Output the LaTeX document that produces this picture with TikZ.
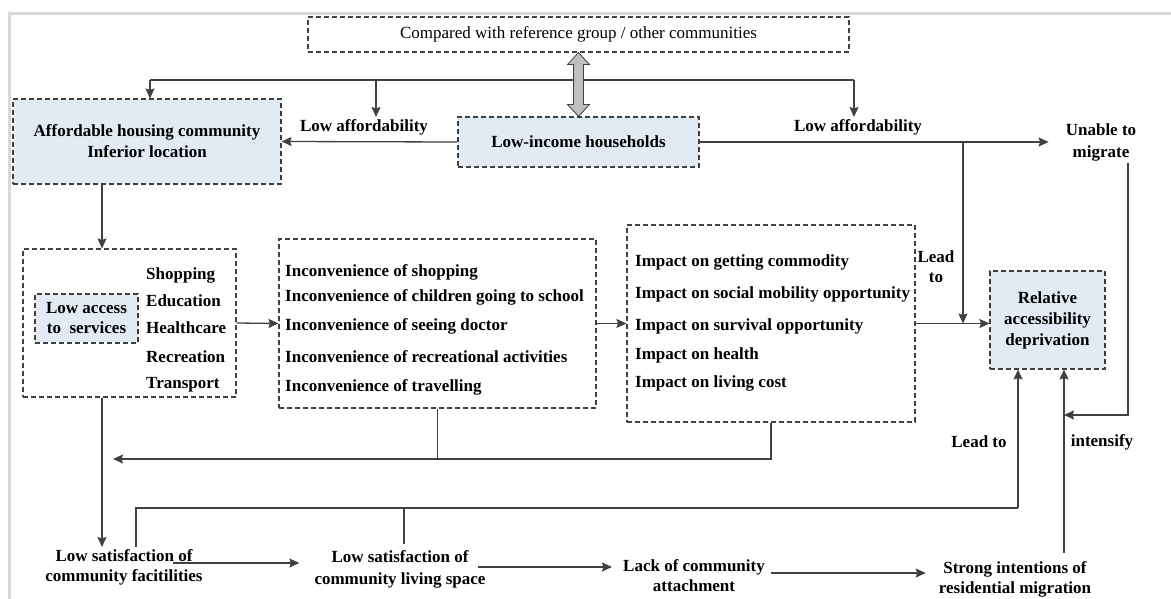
\documentclass[tikz,border=0pt]{standalone}
\usepackage{fontspec}
\setmainfont{Liberation Serif}
\usetikzlibrary{arrows.meta,calc}
\definecolor{ln}{HTML}{404040}
\definecolor{bx}{HTML}{E2EAF3}
\definecolor{fr}{HTML}{D9D9D9}
\definecolor{dbl}{HTML}{BFBFBF}
\begin{document}
\begin{tikzpicture}[x=1pt,y=-1pt,
  font=\fontsize{17}{20}\selectfont\bfseries,
  dbox/.style={draw=ln, line width=1.1pt, dash pattern=on 5pt off 3pt, inner sep=0pt, align=center},
  fbox/.style={dbox, fill=bx},
  arr/.style={draw=ln, line width=1.3pt, -{Stealth[length=10pt,width=9pt,inset=1.5pt]}},
  plain/.style={draw=ln, line width=1.3pt},
  lbl/.style={inner sep=2pt, align=center},
  item/.style={anchor=west, inner sep=0pt},
]
\useasboundingbox (0,0) rectangle (1171,599);
\fill[white] (0,0) rectangle (1171,599);
\draw[fr, line width=3pt] (9,599) -- (9,14) -- (1171,14);

% boxes
\node[dbox, minimum width=541pt, minimum height=35pt, font=\fontsize{17}{20}\selectfont\mdseries] (cmp) at (578.5,34.5) {Compared with reference group / other communities};
\node[fbox, minimum width=268pt, minimum height=85pt, font=\fontsize{17}{21}\selectfont\bfseries] (aff) at (147,141.5) {Affordable housing community\\Inferior location};
\node[fbox, minimum width=241pt, minimum height=50pt] (lowinc) at (578.5,142) {Low-income households};
\node[lbl] (la1) at (364,127) {Low affordability};
\node[lbl] (la2) at (858,127) {Low affordability};
\node[lbl, font=\fontsize{17}{22}\selectfont\bfseries] (unable) at (1101,142) {Unable to\\migrate};

\node[dbox, minimum width=213pt, minimum height=148pt] (acc) at (129.5,323) {};
\node[fbox, minimum width=103pt, minimum height=49pt] (accin) at (86.5,318.5) {Low access\\to\enspace services};
\node[item] (sv1) at (146,275) {Shopping};
\node[item] (sv2) at (146,301) {Education};
\node[item] (sv3) at (146,328) {Healthcare};
\node[item] (sv4) at (146,357) {Recreation};
\node[item] (sv5) at (146,385) {Transport};

\node[dbox, minimum width=317pt, minimum height=169pt] (inc) at (437.5,323.5) {};
\node[item] (ic1) at (285,272) {Inconvenience of shopping};
\node[item] (ic2) at (285,297) {Inconvenience of children going to school};
\node[item] (ic3) at (285,326) {Inconvenience of seeing doctor};
\node[item] (ic4) at (285,357) {Inconvenience of recreational activities};
\node[item] (ic5) at (285,387) {Inconvenience of travelling};

\node[dbox, minimum width=288pt, minimum height=197pt] (imp) at (771,323.5) {};
\node[item] (im1) at (635,262) {Impact on getting commodity};
\node[item] (im2) at (635,294) {Impact on social mobility opportunity};
\node[item] (im3) at (635,326) {Impact on survival opportunity};
\node[item] (im4) at (635,355) {Impact on health};
\node[item] (im5) at (635,383) {Impact on living cost};

\node[fbox, minimum width=115pt, minimum height=98pt, font=\fontsize{17}{21}\selectfont\bfseries] (rel) at (1047.5,320) {Relative\\accessibility\\deprivation};

\node[lbl] (lt1) at (936,267) {Lead\\to};
\node[lbl] (lt2) at (979,442) {Lead to};
\node[lbl] (ints) at (1102,442) {intensify};

\node[lbl] (sat1) at (124,567) {Low satisfaction of\\community facitilities};
\node[lbl, font=\fontsize{17}{22}\selectfont\bfseries] (sat2) at (400,569) {Low satisfaction of\\community living space};
\node[lbl] (lack) at (694,576) {Lack of community\\attachment};
\node[lbl] (strong) at (1015,579) {Strong intentions of\\residential migration};

% top bus
\coordinate (b0) at (150,80);
\coordinate (b1) at (854,80);
\coordinate (b2) at (376,80);
\draw[plain] (b0) -- (b1);
\draw[arr] (b0) -- (aff.north -| b0);
\draw[arr] (b2) -- (la1.north -| b2);
\draw[arr] (b1) -- (la2.north -| b1);

% double arrow
\filldraw[fill=dbl, draw=ln, line width=0.8pt] (cmp.south) -- ++(11,12) -- ++(-6,0) -- ($(lowinc.north)+(5,-12)$) -- ++(6,0) -- (lowinc.north) -- ++(-11,-12) -- ++(6,0) -- ($(cmp.south)+(-5,12)$) -- ++(-6,0) -- cycle;

% main arrows
\draw[arr] (lowinc.west) -- (aff.east);
\draw[arr, shorten >=15pt] (lowinc.east) -- (lowinc.east -| unable.west);
\coordinate (j1) at (963,142);
\draw[arr] (j1) -- (j1 |- imp.east);
\draw[arr] (imp.east) -- (imp.east -| rel.west);

\coordinate (c102) at (102,0);
\draw[arr] (aff.south -| c102) -- (acc.north -| c102);
\draw[arr] (acc.south -| c102) -- (sat1.north -| c102);
\draw[arr] (acc.east) -- (inc.west);
\draw[arr] (inc.east) -- (imp.west);

\coordinate (c113) at (113,459);
\draw[arr] (imp.south) |- (c113);
\draw[plain] (inc.south) -- (inc.south |- c113);

\coordinate (u0) at (1128,163);
\coordinate (u1) at (1064,415);
\draw[arr] (u0) |- (u1);
\coordinate (s0) at (1064,553);
\draw[arr] (s0) -- (s0 |- rel.south);

\coordinate (k0) at (136,547);
\coordinate (k1) at (1018,508);
\coordinate (k2) at (404,544);
\draw[plain] (k0) |- (k1);
\draw[plain] (k2) -- (k2 |- k1);
\draw[arr] (k1) -- (k1 |- rel.south);

\coordinate (a1) at (173,563);
\coordinate (a2) at (478,567);
\coordinate (a3) at (771,573);
\draw[arr, shorten >=13pt] (a1) -- (a1 -| sat2.west);
\draw[arr, shorten >=9pt] (a2) -- (a2 -| lack.west);
\draw[arr, shorten >=11pt] (a3) -- (a3 -| strong.west);
\end{tikzpicture}
\end{document}
